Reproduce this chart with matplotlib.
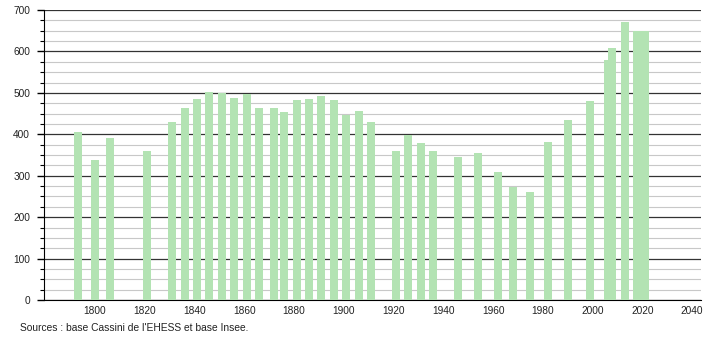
import matplotlib
matplotlib.use("Agg")
import matplotlib.pyplot as plt
from matplotlib.ticker import MultipleLocator

plt.rcParams['font.family'] = ['Liberation Sans', 'DejaVu Sans']

# population par recensement
annees = [1793, 1800, 1806, 1821, 1831, 1836, 1841, 1846, 1851, 1856,
          1861, 1866, 1872, 1876, 1881, 1886, 1891, 1896, 1901, 1906,
          1911, 1921, 1926, 1931, 1936, 1946, 1954, 1962, 1968, 1975,
          1982, 1990, 1999, 2006, 2008, 2013, 2018, 2021]
population = [406, 338, 392, 360, 430, 463, 485, 501, 499, 488,
              498, 463, 463, 454, 483, 485, 493, 483, 447, 456,
              430, 360, 398, 379, 360, 345, 355, 309, 272, 261,
              381, 434, 480, 579, 609, 672, 649, 649]

x_ticks = list(range(1800, 2041, 20))
source = "Sources : base Cassini de l'EHESS et base Insee."

fig = plt.figure(figsize=(7.1, 3.4), dpi=100)
ax = fig.add_axes([0.062, 0.1176, 0.925, 0.853])

ax.bar(annees, population, width=3.2, color='#b3e3b3', zorder=3)

ax.set_xlim(1779.5, 2043.5)
ax.set_ylim(0, 700)
ax.yaxis.set_major_locator(MultipleLocator(100))
ax.yaxis.set_minor_locator(MultipleLocator(25))
ax.set_xticks(x_ticks)

ax.grid(axis='y', which='major', color='#333333', linewidth=0.9, zorder=1)
ax.grid(axis='y', which='minor', color='#c8c8c8', linewidth=0.8, zorder=1)

for s in ['top', 'right']:
    ax.spines[s].set_visible(False)
ax.spines['left'].set_color('black')
ax.spines['bottom'].set_color('black')

ax.tick_params(axis='y', which='major', length=5, width=1, labelsize=7.3,
               pad=5, labelcolor='#222222')
ax.tick_params(axis='y', which='minor', length=3, width=0.8)
ax.tick_params(axis='x', length=0, labelsize=7.3, pad=4, labelcolor='#222222')

fig.text(0.028, 0.035, source, fontsize=7.4, ha='left', va='center',
         color='#222222')

fig.savefig('out.png', dpi=100)
